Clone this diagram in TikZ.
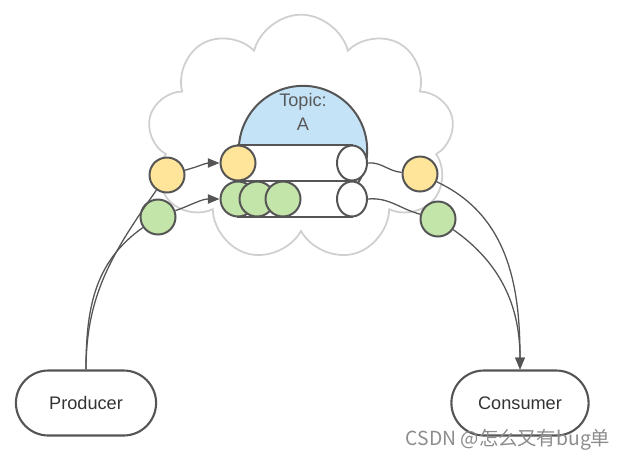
\documentclass[tikz,border=0pt]{standalone}
\usepackage{fontspec}
\setmainfont{Liberation Sans}
\newfontfamily\cjk{Noto Sans CJK SC}
\usepackage{xcolor}
\usetikzlibrary{shapes,arrows.meta,positioning,calc}

\definecolor{linegray}{HTML}{555555}
\definecolor{cloudgray}{HTML}{CFCFCF}
\definecolor{topicblue}{HTML}{C4E3F7}
\definecolor{msgyellow}{HTML}{FFE59A}
\definecolor{msggreen}{HTML}{C3E5A9}

\tikzset{
  msg/.style={circle, draw=linegray, line width=1.7pt, minimum size=1.05cm, inner sep=0pt},
  capend/.style={ellipse, draw=linegray, fill=white, line width=1.7pt, minimum width=0.9cm, minimum height=1.05cm, inner sep=0pt},
  client/.style={rounded rectangle, draw=linegray, line width=1.8pt, minimum height=1.95cm, text=black!80, font=\fontsize{15.5}{18}\selectfont},
  conn/.style={draw=linegray, line width=1.1pt},
  tip/.style={-{Triangle[length=10pt,width=8pt]}}
}

\begin{document}
\begin{tikzpicture}[x=0.03cm, y=-0.03cm]
\useasboundingbox (0,0) rectangle (621,463);

% Cloud
\node[cloud, cloud puffs=9, aspect=1.25, draw=cloudgray, line width=1.5pt, minimum width=9.2cm, minimum height=7.4cm] (cloud) at (301,138) {};

% Topic
\node[circle, draw=linegray, fill=topicblue, line width=1.7pt, minimum size=3.85cm, inner sep=0pt] (topic) at (303,150) {};
\node[text=black!65, align=center, font=\fontsize{15.5}{21}\selectfont] (topiclabel) at (303,112) {Topic:\\A};

% Partitions
\draw[draw=linegray, fill=white, line width=1.7pt] (238,145) rectangle (352,181);
\draw[draw=linegray, fill=white, line width=1.7pt] (238,181) rectangle (352,217);
\node[capend] (endA) at (352,163) {};
\node[capend] (endB) at (352,199) {};
\node[msg, fill=msgyellow] (qy) at (238,163) {};
\node[msg, fill=msggreen] (qg1) at (238,199) {};
\node[msg, fill=msggreen] (qg2) at (257,199) {};
\node[msg, fill=msggreen] (qg3) at (283,199) {};

% Messages in flight
\node[msg, fill=msgyellow] (iny) at (167,175) {};
\node[msg, fill=msggreen] (ing) at (158,217) {};
\node[msg, fill=msgyellow] (outy) at (420,174) {};
\node[msg, fill=msggreen] (outg) at (438,219) {};

% Clients
\node[client, minimum width=4.44cm] (prod) at (86,403) {Producer};
\node[client, minimum width=4.35cm] (cons) at (520,403) {Consumer};

% Producer side
\draw[conn] (prod.north) to[out=90, in=235] (iny);
\draw[conn] (prod.north) to[out=90, in=215] (ing);
\draw[conn, tip] (iny) to[out=15, in=180] (qy.west);
\draw[conn, tip] (ing) to[out=20, in=180] (qg1.west);

% Consumer side
\draw[conn] (endA.east) to[out=5, in=175] (outy);
\draw[conn] (endB.east) to[out=5, in=165] (outg);
\draw[conn, tip] (outy) to[out=-25, in=90] (cons.north);
\draw[conn, tip] (outg) to[out=-35, in=90] (cons.north);

% Watermark
\node[text=black!45, font=\cjk\fontsize{16.5}{19}\selectfont] (mark) at (508,440) {CSDN @怎么又有bug单};
\end{tikzpicture}
\end{document}
